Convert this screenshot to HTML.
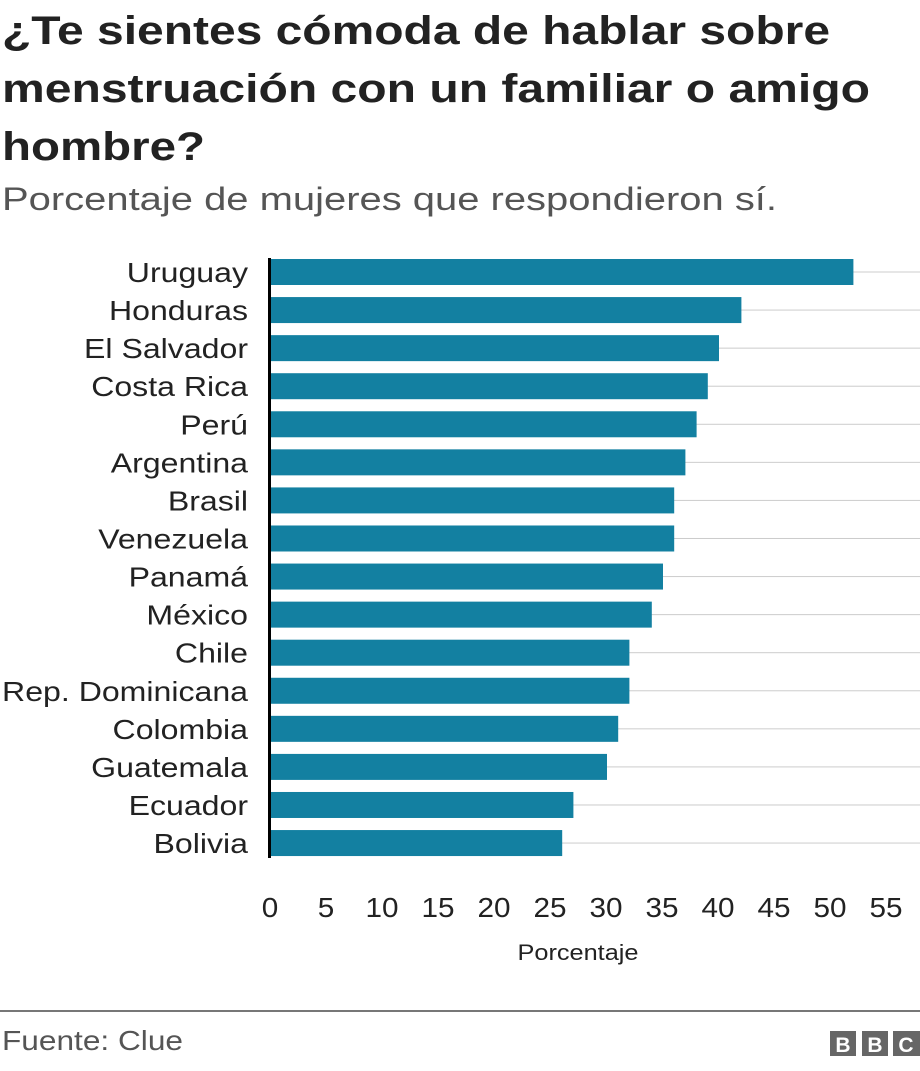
<!DOCTYPE html>
<html><head><meta charset="utf-8"><style>
body{margin:0;background:#fff;}
svg text{font-family:"Liberation Sans",Arial,sans-serif;}
</style></head><body>
<svg width="920" height="1066" xmlns="http://www.w3.org/2000/svg">
<text x="2" y="44" font-size="40" font-weight="bold" fill="#222" textLength="828" lengthAdjust="spacingAndGlyphs">¿Te sientes cómoda de hablar sobre</text>
<text x="2" y="102" font-size="40" font-weight="bold" fill="#222" textLength="868" lengthAdjust="spacingAndGlyphs">menstruación con un familiar o amigo</text>
<text x="2" y="160" font-size="40" font-weight="bold" fill="#222" textLength="203" lengthAdjust="spacingAndGlyphs">hombre?</text>
<text x="2" y="210" font-size="32" fill="#555" textLength="775" lengthAdjust="spacingAndGlyphs">Porcentaje de mujeres que respondieron sí.</text>
<g id="c"></g>
<text class="s" x="578" y="960" font-size="22" fill="#222" text-anchor="middle">Porcentaje</text>
<rect x="0" y="1010" width="920" height="2" fill="#777"/>
<text x="2" y="1050" font-size="28" fill="#555" textLength="181" lengthAdjust="spacingAndGlyphs">Fuente: Clue</text>
<rect x="830" y="1031" width="26" height="25" fill="#666"/>
<rect x="862" y="1031" width="26" height="25" fill="#666"/>
<rect x="893" y="1031" width="27" height="25" fill="#666"/>
<text x="843" y="1052" font-size="21" font-weight="bold" fill="#fff" text-anchor="middle">B</text>
<text x="875" y="1052" font-size="21" font-weight="bold" fill="#fff" text-anchor="middle">B</text>
<text x="906" y="1052" font-size="21" font-weight="bold" fill="#fff" text-anchor="middle">C</text>
</svg>
<script>
var d=[["Uruguay",52],["Honduras",42],["El Salvador",40],["Costa Rica",39],["Perú",38],["Argentina",37],["Brasil",36],["Venezuela",36],["Panamá",35],["México",34],["Chile",32],["Rep. Dominicana",32],["Colombia",31],["Guatemala",30],["Ecuador",27],["Bolivia",26]];
var s="",u=11.2;
d.forEach(function(r,i){var y=259+i*38.07;
s+='<rect x="271" y="'+(y+12.5)+'" width="649" height="1" fill="#ccc"/>';
s+='<rect x="271" y="'+y+'" width="'+(r[1]*u)+'" height="26" fill="#1380A1"/>';
s+='<text class="l" x="248" y="'+(y+23)+'" font-size="28" fill="#222" text-anchor="end">'+r[0]+'</text>';});
s+='<rect x="268" y="258" width="3" height="600" fill="#000"/>';
for(var t=0;t<=55;t+=5){s+='<text class="t" x="'+(270+t*u)+'" y="917" font-size="28" fill="#222" text-anchor="middle">'+t+'</text>';}
document.getElementById("c").innerHTML=s;
function fit(cls,f){var e=document.querySelectorAll("text."+cls);for(var i=0;i<e.length;i++){var L=e[i].getComputedTextLength();e[i].setAttribute("textLength",L*f);e[i].setAttribute("lengthAdjust","spacingAndGlyphs");}}
fit("l",1.145);fit("t",1.06);fit("s",1.15);
</script>
</body></html>
